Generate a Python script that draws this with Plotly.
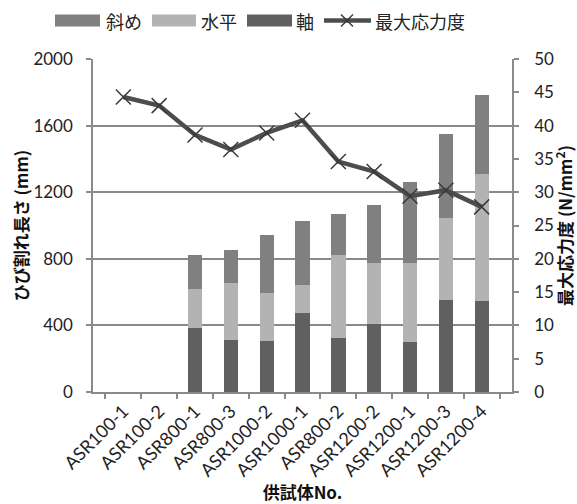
import plotly.graph_objects as go

# Specimens and measured values
specimens = ["ASR100-1", "ASR100-2", "ASR800-1", "ASR800-3", "ASR1000-2", "ASR1000-1",
             "ASR800-2", "ASR1200-2", "ASR1200-1", "ASR1200-3", "ASR1200-4"]
# crack lengths by direction (mm)
axial = [None, None, 386, 314, 306, 472, 326, 408, 302, 553, 548]
horizontal = [None, None, 233, 339, 289, 171, 497, 367, 473, 494, 761]
diagonal = [None, None, 203, 197, 345, 387, 244, 346, 484, 504, 477]
# maximum stress (N/mm2)
max_stress = [44.3, 43.0, 38.6, 36.4, 38.9, 40.8, 34.6, 33.1, 29.4, 30.3, 27.8]

JP = "Noto Sans CJK JP"
NUM = "Lato"
GRID = "#8a8a8a"
C_AXIAL, C_HORIZ, C_DIAG, C_LINE = "#606060", "#b3b3b3", "#808080", "#4d4d4d"

W, H = 577, 504
ML, MR, MT, MB = 93, 65, 59, 112
PW, PH = W - ML - MR, H - MT - MB


def px_x(x):
    return (x - ML) / PW


def px_y(y):
    return (H - MB - y) / PH


fig = go.Figure()
fig.add_trace(go.Bar(x=specimens, y=axial, name="軸", marker_color=C_AXIAL,
                     marker_line_width=0))
fig.add_trace(go.Bar(x=specimens, y=horizontal, name="水平", marker_color=C_HORIZ,
                     marker_line_width=0))
fig.add_trace(go.Bar(x=specimens, y=diagonal, name="斜め", marker_color=C_DIAG,
                     marker_line_width=0))
fig.add_trace(go.Scatter(x=specimens, y=max_stress, name="最大応力度", yaxis="y2",
                         mode="lines+markers",
                         line=dict(color=C_LINE, width=4.5),
                         marker=dict(symbol="x-thin", size=15,
                                     line=dict(color="#3a3a3a", width=1.5))))

# Legend row drawn with wide swatches across the top
shapes, annotations = [], []
ly = 20.5
for x0, x1, color, label, tx in [(55, 100, C_DIAG, "斜め", 104),
                                  (152, 196, C_HORIZ, "水平", 199),
                                  (247, 292, C_AXIAL, "軸", 294)]:
    shapes.append(dict(type="rect", xref="paper", yref="paper",
                       x0=px_x(x0), x1=px_x(x1), y0=px_y(ly + 6), y1=px_y(ly - 6),
                       fillcolor=color, line_width=0))
    annotations.append(dict(text=label, xref="paper", yref="paper", x=px_x(tx), y=px_y(ly),
                            xanchor="left", yanchor="middle", showarrow=False,
                            font=dict(family=JP, size=18, color="#222222")))
shapes.append(dict(type="line", xref="paper", yref="paper",
                   x0=px_x(324), x1=px_x(371), y0=px_y(ly), y1=px_y(ly),
                   line=dict(color=C_LINE, width=4.5)))
for dx, dy in [(6, 6), (6, -6)]:
    shapes.append(dict(type="line", xref="paper", yref="paper",
                       x0=px_x(347 - dx), x1=px_x(347 + dx), y0=px_y(ly - dy), y1=px_y(ly + dy),
                       line=dict(color="#3a3a3a", width=1.5)))
annotations.append(dict(text="最大応力度", xref="paper", yref="paper", x=px_x(373), y=px_y(ly),
                        xanchor="left", yanchor="middle", showarrow=False,
                        font=dict(family=JP, size=18, color="#222222")))

fig.update_layout(
    width=W, height=H,
    margin=dict(l=ML, r=MR, t=MT, b=MB),
    paper_bgcolor="white", plot_bgcolor="white",
    barmode="stack", bargap=0.6,
    font=dict(family=JP, color="#222222"),
    showlegend=False,
    shapes=shapes, annotations=annotations,
    xaxis=dict(
        type="category", tickangle=-45, tickson="boundaries", automargin=False,
        ticks="outside", ticklen=5, tickcolor=GRID, tickwidth=1.5,
        showline=True, linecolor=GRID, linewidth=1.5,
        tickfont=dict(family=NUM, size=18, color="#222222"),
        title=dict(text="<b>供試体No.</b>", font=dict(family=JP, size=17, color="#111111"),
                   standoff=2),
    ),
    yaxis=dict(
        range=[0, 2000], dtick=400, showgrid=True, gridcolor=GRID, gridwidth=1.5,
        showline=True, linecolor=GRID, linewidth=1.5, automargin=False,
        ticks="outside", ticklen=5, tickcolor=GRID, tickwidth=1.5,
        tickfont=dict(family=NUM, size=17, color="#222222"),
        ticklabelstandoff=10, zeroline=False,
        title=dict(text="<b>ひび割れ長さ (mm)</b>", font=dict(family=JP, size=17, color="#111111"),
                   standoff=0),
    ),
    yaxis2=dict(
        overlaying="y", side="right", range=[0, 50], dtick=5, showgrid=False,
        showline=True, linecolor=GRID, linewidth=1.5, automargin=False,
        ticks="outside", ticklen=5, tickcolor=GRID, tickwidth=1.5,
        tickfont=dict(family=NUM, size=17, color="#222222"),
        ticklabelstandoff=12, zeroline=False,
        title=dict(text="<b>最大応力度 (N/mm<sup>2</sup>)</b>",
                   font=dict(family=JP, size=17, color="#111111"), standoff=2),
    ),
)

fig.write_html("out.html")
